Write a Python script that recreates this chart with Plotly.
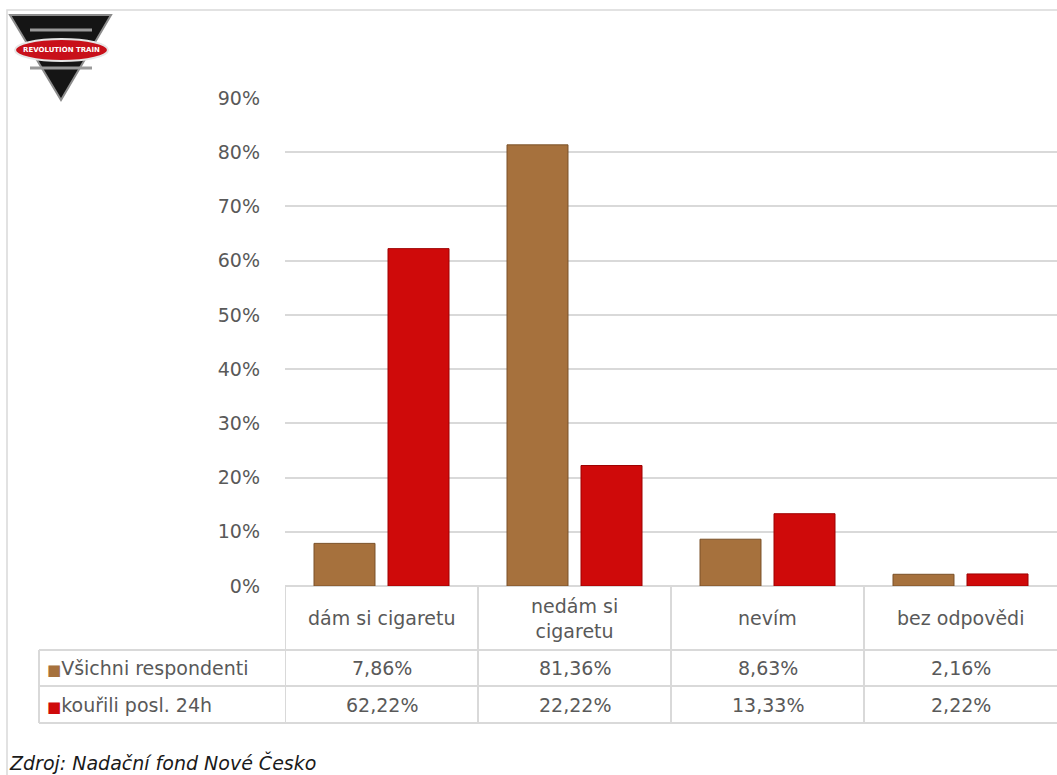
import plotly.graph_objects as go

# --------------------------------------------------
# DATA
# --------------------------------------------------
kategorie = ["dám si cigaretu", "nedám si<br>cigaretu", "nevím", "bez odpovědi"]
vsichni = [7.86, 81.36, 8.63, 2.16]
kourili = [62.22, 22.22, 13.33, 2.22]
serie_nazvy = ["Všichni respondenti", "kouřili posl. 24h"]
y_ticks = [0, 10, 20, 30, 40, 50, 60, 70, 80, 90]

BROWN = "#A6713D"
RED = "#CF0A0A"
GRID = "#D9D9D9"
TXT = "#595959"
FONT = "DejaVu Sans"

W, H = 1057, 775
PL, PR, PT, PB = 285, 1057, 98, 586  # plot area in px


def yp(py):
    return (PB - py) / (PB - PT)


def xp(px):
    return (px - PL) / (PR - PL)


def fmt(v):
    return f"{v:.2f}".replace(".", ",") + "%"


fig = go.Figure()
fig.add_trace(go.Bar(
    x=list(range(len(kategorie))), y=vsichni, name=serie_nazvy[0],
    marker=dict(color=BROWN, line=dict(color="#7A5128", width=1)),
))
fig.add_trace(go.Bar(
    x=list(range(len(kategorie))), y=kourili, name=serie_nazvy[1],
    marker=dict(color=RED, line=dict(color="#9E0000", width=1)),
))

shapes = []
annotations = []

# ramecek
shapes.append(dict(type="rect", xref="paper", yref="paper",
                   x0=xp(7), x1=xp(1070), y0=yp(800), y1=yp(10),
                   line=dict(color=GRID, width=1.5), layer="below"))

# --------------------------------------------------
# TABULKA DAT
# --------------------------------------------------
for y in [650, 686, 723]:
    shapes.append(dict(type="line", xref="paper", yref="paper",
                       x0=xp(39), x1=1, y0=yp(y), y1=yp(y),
                       line=dict(color=GRID, width=2)))
for i in range(len(kategorie)):
    shapes.append(dict(type="line", xref="x", yref="paper",
                       x0=i - 0.5, x1=i - 0.5, y0=yp(586), y1=yp(723),
                       line=dict(color=GRID, width=2)))
shapes.append(dict(type="line", xref="paper", yref="paper",
                   x0=xp(39), x1=xp(39), y0=yp(650), y1=yp(723),
                   line=dict(color=GRID, width=2)))

for i, k in enumerate(kategorie):
    for txt, yy in [(k, 618), (fmt(vsichni[i]), 668), (fmt(kourili[i]), 705)]:
        annotations.append(dict(x=i, xref="x", y=yp(yy), yref="paper",
                                xanchor="center", yanchor="middle",
                                text=txt, showarrow=False,
                                font=dict(size=19, color=TXT, family=FONT)))

for nazev, barva, yy in [(serie_nazvy[0], BROWN, 668), (serie_nazvy[1], RED, 705)]:
    annotations.append(dict(
        x=xp(45), xref="paper", y=yp(yy), yref="paper",
        xanchor="left", yanchor="middle",
        text=f'<span style="color:{barva};font-size:15px">■</span>{nazev}',
        showarrow=False, font=dict(size=19, color=TXT, family=FONT)))

# zdroj
annotations.append(dict(x=xp(7), xref="paper", y=yp(749), yref="paper",
                        xanchor="left", yanchor="top",
                        text="<i>Zdroj: Nadační fond Nové Česko</i>",
                        showarrow=False,
                        font=dict(size=19, color="#1A1A1A", family=FONT)))

# logo
shapes.append(dict(type="path", xref="paper", yref="paper",
                   path=(f"M {xp(10)},{yp(15)} L {xp(111)},{yp(15)} "
                         f"L {xp(61)},{yp(100)} Z"),
                   fillcolor="#151515", line=dict(color="#8C8C8C", width=2)))
for y0 in [30, 68]:
    shapes.append(dict(type="line", xref="paper", yref="paper",
                       x0=xp(30), x1=xp(92), y0=yp(y0), y1=yp(y0),
                       line=dict(color="#9A9A9A", width=3)))
shapes.append(dict(type="circle", xref="paper", yref="paper",
                   x0=xp(15), x1=xp(108), y0=yp(61), y1=yp(39),
                   fillcolor="#C8101A", line=dict(color="#E6E6E6", width=2)))
annotations.append(dict(x=xp(61), xref="paper", y=yp(50), yref="paper",
                        xanchor="center", yanchor="middle",
                        text="<b>REVOLUTION TRAIN</b>", showarrow=False,
                        font=dict(size=7, color="white", family="DejaVu Sans")))

fig.update_layout(
    width=W, height=H,
    margin=dict(l=PL, r=W - PR, t=PT, b=H - PB, autoexpand=False),
    plot_bgcolor="white", paper_bgcolor="white",
    barmode="group", bargap=0.233, bargroupgap=0.176,
    showlegend=False,
    shapes=shapes, annotations=annotations,
    font=dict(family=FONT, color=TXT),
)
fig.update_xaxes(range=[-0.5, len(kategorie) - 0.5], showticklabels=False,
                 showgrid=False, zeroline=False)
fig.update_yaxes(range=[0, 90], tickvals=y_ticks,
                 ticktext=[f"{t}%" for t in y_ticks],
                 showgrid=True, gridcolor=GRID, gridwidth=2,
                 zeroline=True, zerolinecolor=GRID, zerolinewidth=2,
                 tickfont=dict(size=19, color=TXT, family=FONT),
                 ticklabelstandoff=24)

fig.write_html("out.html", config={"displayModeBar": False},
               post_script="document.body.style.margin='0';")
